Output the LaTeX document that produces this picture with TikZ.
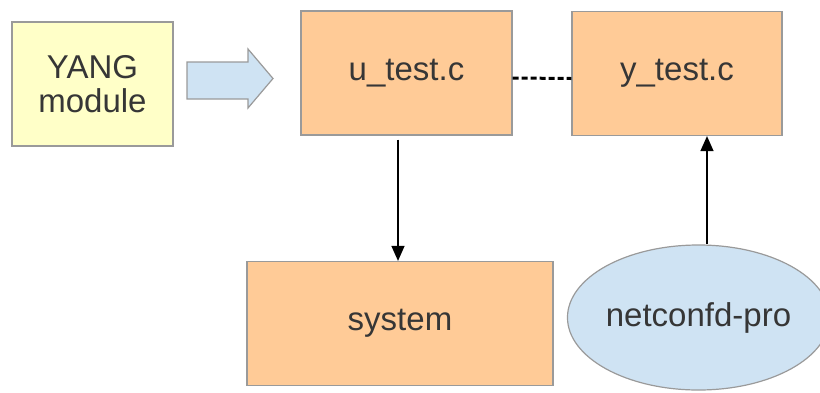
\documentclass[tikz,border=0pt]{standalone}
\usepackage{fontspec}
\setmainfont{Liberation Sans}
\usetikzlibrary{arrows.meta,shapes.geometric,calc}
\definecolor{yfill}{HTML}{FFFFC8}
\definecolor{ofill}{HTML}{FFCB97}
\definecolor{bfill}{HTML}{CFE3F3}
\definecolor{bord}{HTML}{9A9A9A}
\definecolor{txt}{HTML}{363636}
\tikzset{
  boxnode/.style={rectangle, draw=bord, line width=1.2pt, text=txt,
    font=\fontsize{33}{38}\selectfont, align=center, inner sep=0pt},
  ellnode/.style={ellipse, draw=bord, line width=1.2pt, fill=bfill, text=txt,
    font=\fontsize{33}{38}\selectfont, inner sep=0pt},
  arr/.style={line width=1.3pt, draw=black, -{Triangle[length=15pt,width=13pt]}},
  dashln/.style={line width=3pt, dash pattern=on 6pt off 3pt}
}
\begin{document}
\begin{tikzpicture}[x=1pt,y=-1pt]
\useasboundingbox (0,0) rectangle (820,392);
\node[boxnode, fill=yfill, minimum width=161pt, minimum height=124pt] (yang) at (92.5,84) {YANG\\[-4pt]module};
\node[boxnode, fill=ofill, minimum width=211pt, minimum height=124pt] (u) at (406.5,73) {u\_test.c};
\node[boxnode, fill=ofill, minimum width=210pt, minimum height=124pt] (yt) at (677,73.5) {y\_test.c};
\node[boxnode, fill=ofill, minimum width=306pt, minimum height=124pt] (s) at (400,323.5) {system};
\node[ellnode, minimum width=239pt, minimum height=145pt] (e) at (698.5,317.5) {netconfd-pro};
% block arrow
\draw[draw=bord, line width=1.2pt, fill=bfill, line join=miter]
  (187,62) -- (248,62) -- (248,49) -- (273,78.5) -- (248,108) -- (248,99) -- (187,99) -- cycle;
% connectors
\draw[dashln] ([yshift=-5pt]u.east) -- ([yshift=-5pt]yt.west);
\draw[arr] ([xshift=-8.5pt,yshift=-4pt]u.south) -- ([xshift=-8.5pt]u.south |- s.north);
\draw[arr] ([xshift=30pt]yt.south |- e.north) -- ([xshift=30pt]yt.south);
\end{tikzpicture}
\end{document}
